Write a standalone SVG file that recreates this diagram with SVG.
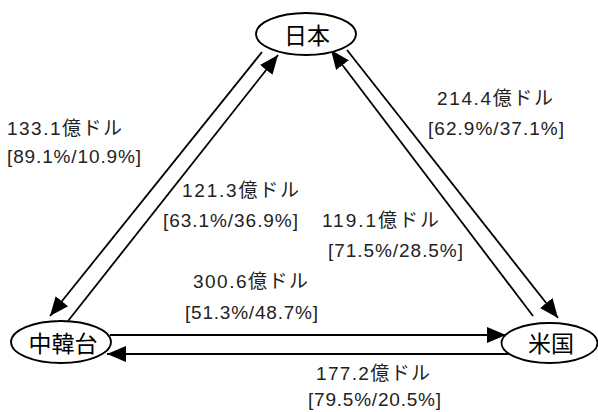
<svg xmlns="http://www.w3.org/2000/svg" width="598" height="412" viewBox="0 0 598 412">
<style>
.node ellipse{fill:#fff;stroke:#000;stroke-width:1.8}
.node text{font-family:"Noto Sans CJK JP","Noto Sans CJK SC",sans-serif;font-size:23px;fill:#000;text-anchor:middle;dominant-baseline:central}
.conn line{stroke:#000;stroke-width:1.8;fill:none;marker-end:url(#ah)}
.lbl{font-family:"Liberation Sans","Noto Sans CJK JP",sans-serif;font-size:19px;fill:#222}
</style>
<defs>
<marker id="ah" markerUnits="userSpaceOnUse" markerWidth="20" markerHeight="18" refX="19" refY="8" orient="auto" viewBox="0 0 20 16">
<path d="M0,0 L19,8 L0,16 z" fill="#000"/>
</marker>
</defs>
<rect width="598" height="412" fill="#fff"/>
<g id="connectors" class="conn">
<line x1="262" y1="52" x2="50" y2="316"/>
<line x1="68" y1="321" x2="278" y2="55"/>
<line x1="347" y1="50" x2="558" y2="318"/>
<line x1="533" y1="316" x2="331" y2="50"/>
<line x1="110" y1="335" x2="506" y2="335"/>
<line x1="510" y1="354" x2="107" y2="354"/>
</g>
<g id="node-japan" class="node">
<ellipse cx="306" cy="34" rx="50" ry="21"/>
<text x="307" y="34">日本</text>
</g>
<g id="node-ckt" class="node">
<ellipse cx="61" cy="342" rx="50" ry="21"/>
<text x="63" y="342">中韓台</text>
</g>
<g id="node-us" class="node">
<ellipse cx="549.5" cy="343" rx="48" ry="20"/>
<text x="551" y="342">米国</text>
</g>
<g id="labels">
<text class="lbl" x="7" y="135" textLength="115" lengthAdjust="spacing">133.1億ドル</text>
<text class="lbl" x="7" y="163" textLength="134" lengthAdjust="spacing">[89.1%/10.9%]</text>
<text class="lbl" x="437" y="105" textLength="116" lengthAdjust="spacing">214.4億ドル</text>
<text class="lbl" x="428" y="135" textLength="136" lengthAdjust="spacing">[62.9%/37.1%]</text>
<text class="lbl" x="182" y="197" textLength="117" lengthAdjust="spacing">121.3億ドル</text>
<text class="lbl" x="163" y="227" textLength="135" lengthAdjust="spacing">[63.1%/36.9%]</text>
<text class="lbl" x="322" y="227" textLength="117" lengthAdjust="spacing">119.1億ドル</text>
<text class="lbl" x="328" y="257" textLength="135" lengthAdjust="spacing">[71.5%/28.5%]</text>
<text class="lbl" x="193" y="288" textLength="115" lengthAdjust="spacing">300.6億ドル</text>
<text class="lbl" x="185" y="319" textLength="133" lengthAdjust="spacing">[51.3%/48.7%]</text>
<text class="lbl" x="316" y="380" textLength="114" lengthAdjust="spacing">177.2億ドル</text>
<text class="lbl" x="308" y="406" textLength="133" lengthAdjust="spacing">[79.5%/20.5%]</text>
</g>
</svg>
